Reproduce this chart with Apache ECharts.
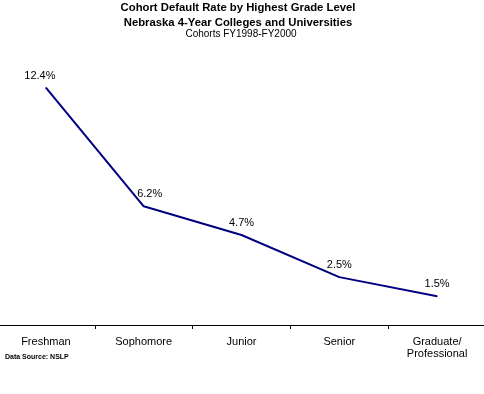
<!DOCTYPE html>
<html><head><meta charset="utf-8">
<script src="https://cdn.jsdelivr.net/npm/echarts@6/dist/echarts.min.js"></script>
<style>html,body{margin:0;padding:0;background:#fff;overflow:hidden}#c{position:absolute;left:-3px;top:0;width:490px;height:394px}</style>
</head><body><div id="c"></div>
<script>
const categories = ['Freshman', 'Sophomore', 'Junior', 'Senior', 'Graduate/\nProfessional'];
const rates = [12.4, 6.2, 4.7, 2.5, 1.5];
const yMin = 0, yMax = 14;
// label horizontal nudges (style only)
const labelDx = [-6, 6, 0, 0, 0];
const chart = echarts.init(document.getElementById('c'), null, {renderer: 'canvas'});
const ff = '"Liberation Sans", Arial, sans-serif';
chart.setOption({
  animation: false,
  backgroundColor: '#fff',
  title: [
    {text: 'Cohort Default Rate by Highest Grade Level\nNebraska 4-Year Colleges and Universities', left: 241, textAlign: 'center', top: 0, padding: 0,
     textStyle: {fontFamily: ff, fontSize: 11.3, fontWeight: 'bold', color: '#000', lineHeight: 15}},
    {text: 'Cohorts FY1998-FY2000', left: 244, textAlign: 'center', top: 29, padding: 0,
     textStyle: {fontFamily: ff, fontSize: 10, fontWeight: 'normal', color: '#000'}},
    {text: 'Data Source: NSLP', left: 8, top: 354, padding: 0,
     textStyle: {fontFamily: ff, fontSize: 7, fontWeight: 'bold', color: '#000'}}
  ],
  grid: {left: 0, width: 489, top: 57, bottom: 69, containLabel: false},
  xAxis: {
    type: 'category', data: categories, boundaryGap: true,
    axisLine: {lineStyle: {color: '#000', width: 1}},
    axisTick: {show: true, length: 4, interval: (i) => i > 0, lineStyle: {color: '#000'}},
    axisLabel: {fontFamily: ff, fontSize: 11, color: '#000', margin: 11, lineHeight: 12, interval: 0}
  },
  yAxis: {type: 'value', min: yMin, max: yMax, show: false, splitLine: {show: false}},
  series: [{
    type: 'line',
    data: rates.map((v, i) => ({value: v, label: {offset: [labelDx[i], 0]}})),
    symbol: 'circle', symbolSize: 1, showSymbol: true,
    itemStyle: {color: '#000080'},
    lineStyle: {color: '#000080', width: 2},
    label: {show: true, position: 'top', distance: 6, formatter: p => p.value.toFixed(1) + '%',
      fontFamily: ff, fontSize: 11, color: '#000'}
  }]
});
</script></body></html>
